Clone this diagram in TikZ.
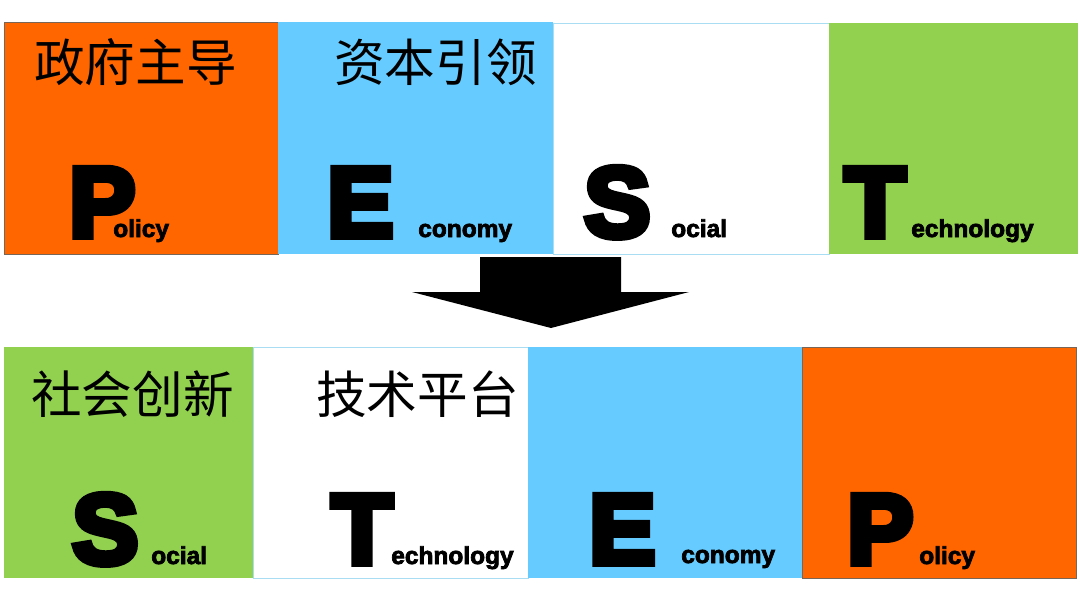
\documentclass[tikz,border=0pt]{standalone}
\usepackage{fontspec}
\setmainfont{Liberation Sans}
\newfontfamily\cjk{Noto Sans CJK SC}
\newfontfamily\heavy{Liberation Sans Bold}[FakeBold=7]
\newfontfamily\bolder{Liberation Sans Bold}[FakeBold=3]
\usetikzlibrary{fit}
\definecolor{pestorange}{HTML}{FF6600}
\definecolor{pestblue}{HTML}{66CCFF}
\definecolor{pestgreen}{HTML}{92D050}
\definecolor{pestline}{HTML}{A9DDF3}
\definecolor{pestedge}{HTML}{7A6656}

\begin{document}
\begin{tikzpicture}[x=0.025cm,y=-0.025cm,
    box/.style={inner sep=0pt, outer sep=0pt, line width=0.6pt},
    cjktext/.style={inner sep=0pt, anchor=west, font=\cjk\fontsize{36}{40}\selectfont},
    bigletter/.style={inner sep=0pt, anchor=base west, font=\heavy\fontsize{70.5}{74}\selectfont},
    word/.style={inner sep=0pt, anchor=base west, font=\bolder\fontsize{17.4}{20}\selectfont}]
    \useasboundingbox (0,0) rectangle (1080,611);
    % top row: P E S T
    \node[box, fill=pestorange, draw=pestedge, fit={(4,22) (278,254)}] (polTop) {};
    \node[box, fill=pestblue, fit={(278,22) (553,254)}] (ecoTop) {};
    \node[box, fill=white, draw=pestline, fit={(553,23) (829,254)}] (socTop) {};
    \node[box, fill=pestgreen, fit={(829,23) (1078,254)}] (tecTop) {};
    \node[cjktext] (zfzd) at (34,62) {政府主导};
    \node[cjktext] (zbyl) at (334,62) {资本引领};
    \node[bigletter] (Ptop) at (69,236.5) {P};
    \node[word] at (113,237) {olicy};
    \node[bigletter] (Etop) at (327,236.5) {E};
    \node[word] at (418,237) {conomy};
    \node[bigletter] (Stop) at (584,236.5) {S};
    \node[word] at (671,237) {ocial};
    \node[bigletter] (Ttop) at (844.5,236.5) {T};
    \node[word] at (911,237) {echnology};
    % block arrow
    \fill[black] (480,257) -- (621,257) -- (621,292) -- (689,292) -- (551,328)
        -- (412,292) -- (480,292) -- cycle;
    % bottom row: S T E P
    \node[box, fill=pestgreen, fit={(4,347) (253,578)}] (socBot) {};
    \node[box, fill=white, draw=pestline, fit={(253,347) (528,578)}] (tecBot) {};
    \node[box, fill=pestblue, fit={(528,347) (802,578)}] (ecoBot) {};
    \node[box, fill=pestorange, draw=pestedge, fit={(802,347) (1076,578)}] (polBot) {};
    \node[cjktext] (shcx) at (31,394) {社会创新};
    \node[cjktext] (jspt) at (316,394) {技术平台};
    \node[bigletter] (Sbot) at (72,563.5) {S};
    \node[word] at (151,564) {ocial};
    \node[bigletter] (Tbot) at (331.5,563.5) {T};
    \node[word] at (391,564) {echnology};
    \node[bigletter] (Ebot) at (589,563.5) {E};
    \node[word] at (681,563) {conomy};
    \node[bigletter] (Pbot) at (847,563.5) {P};
    \node[word] at (919,564) {olicy};
\end{tikzpicture}
\end{document}
